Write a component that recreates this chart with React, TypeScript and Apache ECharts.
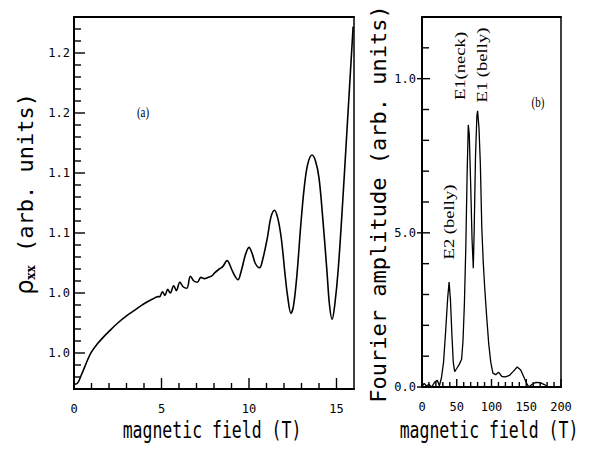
import React, { useEffect, useRef } from "react";
import * as echarts from "echarts";

// Panel (a): magnetoresistance vs field
const fieldA = [0, 0.1, 0.25, 0.4, 0.6, 0.8, 1.0, 1.3, 1.6, 2.0, 2.5, 3.0, 3.5, 4.0, 4.5, 4.8,
  4.9, 5.05, 5.2, 5.35, 5.5, 5.7, 5.85, 6.05, 6.25, 6.45, 6.65, 6.85, 7.05, 7.25, 7.45, 7.65, 7.85,
  8.05, 8.3, 8.5, 8.75, 9.0, 9.2, 9.37, 9.55, 9.8, 10.0, 10.2, 10.35, 10.6, 10.8, 11.05, 11.25,
  11.45, 11.65, 11.85, 12.05, 12.2, 12.4, 12.55, 12.75, 12.95, 13.15, 13.35, 13.6, 13.8, 14.0,
  14.2, 14.45, 14.6, 14.75, 14.9, 15.1, 15.35, 15.6, 15.95];
const rhoA = [0.975, 0.974, 0.976, 0.981, 0.988, 0.995, 1.001, 1.007, 1.012, 1.018, 1.025, 1.031, 1.036, 1.041, 1.045, 1.047,
  1.047, 1.051, 1.048, 1.053, 1.050, 1.056, 1.052, 1.059, 1.055, 1.054, 1.064, 1.060, 1.059, 1.063, 1.062, 1.063, 1.064,
  1.067, 1.070, 1.072, 1.077, 1.070, 1.064, 1.061, 1.068, 1.082, 1.088, 1.082, 1.075, 1.071, 1.079, 1.096, 1.113,
  1.119, 1.112, 1.095, 1.067, 1.048, 1.033, 1.040, 1.067, 1.105, 1.137, 1.157, 1.165, 1.160, 1.146,
  1.115, 1.069, 1.040, 1.028, 1.040, 1.070, 1.125, 1.186, 1.272];

// Panel (b): Fourier spectrum
const freqB = [0, 3, 6, 10, 14, 18, 22, 25, 28, 31, 34, 37, 39, 41, 43, 45, 47, 50, 54, 57, 59, 61, 63, 65,
  66.6, 68, 70, 72, 73.8, 75, 77, 79, 80, 82, 84, 86, 88, 90, 93, 96, 99, 102, 106, 110, 115, 120, 126,
  131, 137, 142, 147, 151, 154, 158, 164, 170, 176, 182, 190, 200];
const ampB = [0, 0.012, 0.004, 0.008, 0, 0.015, 0.022, 0.004, 0.03, 0.08, 0.18, 0.29, 0.34, 0.28, 0.17, 0.08, 0.05, 0.06, 0.075, 0.09, 0.15, 0.27, 0.45, 0.7,
  0.85, 0.82, 0.66, 0.48, 0.385, 0.5, 0.75, 0.88, 0.896, 0.84, 0.72, 0.52, 0.41, 0.33, 0.23, 0.14, 0.08, 0.045, 0.04, 0.048, 0.034, 0.033, 0.038,
  0.05, 0.065, 0.055, 0.03, 0.01, 0, 0.008, 0.015, 0.014, 0.008, 0, 0, 0];

// Tick values and labels
const xMajorA = [0, 5, 10, 15];
const xMinorA = [1, 2, 3, 4, 6, 7, 8, 9, 11, 12, 13, 14];
const yMajorA = [1.0, 1.05, 1.1, 1.15, 1.2, 1.25];
const yLabelsA = ["1.0", "1.0", "1.1", "1.1", "1.2", "1.2"];
const yMinorA = [0.98, 0.99, 1.01, 1.02, 1.03, 1.04, 1.06, 1.07, 1.08, 1.09, 1.11, 1.12, 1.13, 1.14,
  1.16, 1.17, 1.18, 1.19, 1.21, 1.22, 1.23, 1.24, 1.26, 1.27];
const xMajorB = [0, 50, 100, 150, 200];
const xMinorB = [10, 20, 30, 40, 60, 70, 80, 90, 110, 120, 130, 140, 160, 170, 180, 190];
const yMajorB = [0, 0.5, 1.0];
const yLabelsB = ["0.0", "5.0", "1.0"];
const yMinorB = [0.1, 0.2, 0.3, 0.4, 0.6, 0.7, 0.8, 0.9, 1.1];

const MONO = "DejaVu Sans Mono";
const SERIF = "Liberation Serif";

function lookup(vals: number[], labels: string[], v: number) {
  let best = 0;
  for (let i = 0; i < vals.length; i++) if (Math.abs(vals[i] - v) < Math.abs(vals[best] - v)) best = i;
  return labels[best];
}

const lbl = { fontFamily: MONO, fontSize: 12, color: "#000" };

function ax(grid: number, min: number, max: number, interval: number, pos: string, opts: any = {}) {
  return {
    type: "value",
    gridIndex: grid,
    position: pos,
    min,
    max,
    interval,
    splitLine: { show: false },
    axisLine: { show: !!opts.line, onZero: false, lineStyle: { color: "#000", width: opts.lineWidth ?? 2 } },
    axisTick: { show: false },
    axisLabel: opts.label
      ? { show: true, ...lbl, margin: opts.margin ?? 8, showMaxLabel: !opts.hideMax, formatter: opts.formatter }
      : { show: false },
  };
}

function textEl(x: number, y: number, text: string, font: string, size: number, extra: any = {}) {
  return {
    type: "text",
    x,
    y,
    silent: true,
    ...extra,
    style: { text, fontFamily: font, fontSize: size, fill: "#000", align: "center", verticalAlign: "middle" },
  };
}

export default function App() {
  const ref = useRef<HTMLDivElement>(null);
  useEffect(() => {
    document.body.style.margin = "0";
    const chart = echarts.init(ref.current!, null, { renderer: "svg" });
    const pairsA = fieldA.map((b, i) => [b, rhoA[i]]);
    const pairsB = freqB.map((f, i) => [f, ampB[i]]);
    chart.setOption({
      animation: false,
      backgroundColor: "#fff",
      grid: [
        { left: 74, top: 17, width: 280, height: 372, show: false },
        { left: 422, top: 17, width: 139, height: 370, show: false },
        { left: 74, top: 17, width: 280, height: 336, show: false },
      ],
      xAxis: [
        ax(0, 0, 16, 5, "bottom", { line: true, label: true, margin: 14, hideMax: true }),
        ax(1, 0, 200, 50, "bottom", { line: true, label: true, margin: 14 }),
        { type: "value", gridIndex: 2, min: 0, max: 16, show: false },
        ax(0, 0, 16, 5, "top", { line: true }),
        ax(1, 0, 200, 50, "top", { line: true }),
      ],
      yAxis: [
        ax(0, 0.97, 1.28, 0.01, "left", { line: true }),
        ax(2, 1.0, 1.28, 0.05, "left", {
          label: true,
          margin: 4,
          hideMax: true,
          formatter: (v: number) => lookup(yMajorA, yLabelsA, v),
        }),
        ax(1, 0, 1.2, 0.5, "left", {
          line: true,
          label: true,
          margin: 6,
          hideMax: true,
          formatter: (v: number) => lookup(yMajorB, yLabelsB, v),
        }),
        ax(0, 0.97, 1.28, 0.01, "right", { line: true, lineWidth: 1.5 }),
        ax(1, 0, 1.2, 0.1, "right", { line: true, lineWidth: 1.5 }),
      ],
      series: [
        {
          type: "line",
          xAxisIndex: 0,
          yAxisIndex: 0,
          data: pairsA,
          showSymbol: false,
          smooth: 0.35,
          lineStyle: { color: "#000", width: 1.6 },
          silent: true,
        },
        {
          type: "line",
          xAxisIndex: 1,
          yAxisIndex: 2,
          data: pairsB,
          showSymbol: false,
          lineStyle: { color: "#000", width: 1.3 },
          silent: true,
        },
      ],
    });

    // Tick marks positioned through the chart's own axes, drawn as thin filled rects
    const ticks: any[] = [];
    const W = 1.4;
    const finderA = { xAxisIndex: 0, yAxisIndex: 0 };
    const finderB = { xAxisIndex: 1, yAxisIndex: 2 };
    const xTicks = (finder: any, vals: number[], y0: number, len: number) =>
      vals.forEach((v) => {
        const p = chart.convertToPixel(finder, [v, y0]) as number[];
        ticks.push({
          type: "rect",
          silent: true,
          z: 100,
          shape: { x: p[0] - W / 2, y: p[1] - len, width: W, height: len },
          style: { fill: "#000" },
        });
      });
    const yTicks = (finder: any, vals: number[], x0: number, len: number) =>
      vals.forEach((v) => {
        const p = chart.convertToPixel(finder, [x0, v]) as number[];
        const xs = len >= 0 ? p[0] : p[0] + len;
        ticks.push({
          type: "rect",
          silent: true,
          z: 100,
          shape: { x: xs, y: p[1] - W / 2, width: Math.abs(len), height: W },
          style: { fill: "#000" },
        });
      });
    xTicks(finderA, xMajorA, 0.97, 11);
    xTicks(finderA, xMinorA, 0.97, 6);
    yTicks(finderA, yMajorA, 0, 11);
    yTicks(finderA, yMinorA, 0, 7);
    xTicks(finderB, xMajorB, 0, 8);
    xTicks(finderB, xMinorB, 0, 5);
    yTicks(finderB, yMajorB, 0, 8);
    yTicks(finderB, yMajorB, 0, -5);
    yTicks(finderB, yMinorB, 0, 7);

    chart.setOption({
      graphic: [
        ...ticks,
        textEl(212, 430, "magnetic field (T)", MONO, 16.5, { scaleY: 1.4 }),
        textEl(489, 430, "magnetic field (T)", MONO, 16.5, { scaleY: 1.4 }),
        {
          type: "text",
          x: 25,
          y: 194,
          rotation: Math.PI / 2,
          silent: true,
          style: {
            text: "{rho|ρ}{sub|xx} (arb. units)",
            fontFamily: MONO,
            fontSize: 22,
            fill: "#000",
            align: "center",
            verticalAlign: "middle",
            rich: {
              rho: { fontFamily: "DejaVu Sans", fontSize: 24, fill: "#000" },
              sub: { fontFamily: "DejaVu Serif", fontSize: 12, fontWeight: "bold", fill: "#000", padding: [12, 0, 0, 0] },
            },
          },
        },
        textEl(378, 204, "Fourier amplitude (arb. units)", MONO, 22, { rotation: Math.PI / 2 }),
        textEl(143, 113, "(a)", SERIF, 11, { scaleY: 1.3 }),
        textEl(538, 103, "(b)", SERIF, 11, { scaleY: 1.3 }),
        textEl(449, 222, "E2 (belly)", SERIF, 14, { rotation: Math.PI / 2, scaleX: 1.33 }),
        textEl(460, 66, "E1(neck)", SERIF, 14, { rotation: Math.PI / 2, scaleX: 1.33 }),
        textEl(482, 65, "E1 (belly)", SERIF, 14, { rotation: Math.PI / 2, scaleX: 1.33 }),
      ],
    });
    return () => chart.dispose();
  }, []);
  return <div ref={ref} style={{ width: 602, height: 453 }} />;
}
